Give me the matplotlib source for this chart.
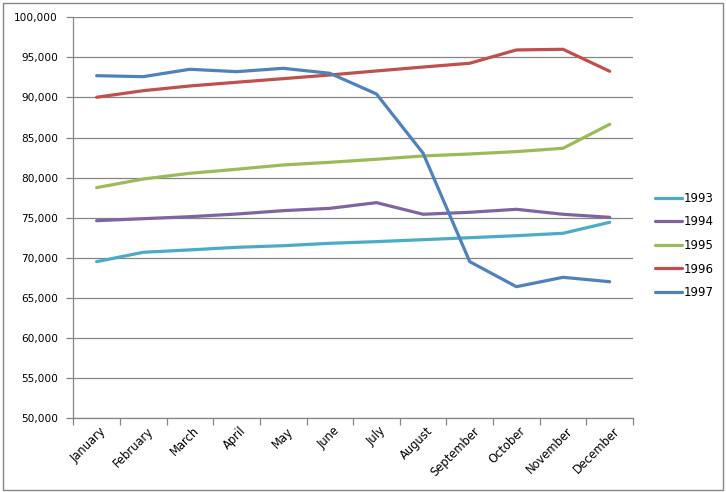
import matplotlib
matplotlib.use("Agg")
import matplotlib.pyplot as plt
from matplotlib.patches import Rectangle
from matplotlib.transforms import ScaledTranslation
import numpy as np

months = ["January", "February", "March", "April", "May", "June", "July",
          "August", "September", "October", "November", "December"]
series_names = ["1993", "1994", "1995", "1996", "1997"]
v1993 = [69530, 70700, 71000, 71320, 71520, 71820, 72030, 72270, 72520, 72770, 73070, 74440]
v1994 = [74640, 74890, 75140, 75470, 75890, 76180, 76890, 75440, 75690, 76060, 75440, 75060]
v1995 = [78760, 79840, 80550, 81050, 81590, 81920, 82300, 82710, 82960, 83250, 83670, 86660]
v1996 = [90030, 90850, 91440, 91900, 92350, 92810, 93310, 93800, 94270, 95930, 96010, 93270]
v1997 = [92720, 92600, 93520, 93220, 93640, 93020, 90440, 83050, 69530, 66410, 67580, 67030]
colors = ["#4BACC6", "#8064A2", "#9BBB59", "#C0504D", "#4F81BD"]
yticks = [50000, 55000, 60000, 65000, 70000, 75000, 80000, 85000, 90000, 95000, 100000]

W, H = 726, 492
fig = plt.figure(figsize=(W / 100, H / 100), dpi=100)
fig.patch.set_facecolor("white")

# chart border
fig.patches.append(Rectangle((3 / W, 1 - 490 / H), 720 / W, 487 / H,
                             transform=fig.transFigure, fill=False,
                             edgecolor="#868686", linewidth=1.0))

ax = fig.add_axes([73.3 / W, 1 - 418.3 / H, (633 - 73.3) / W, (418.3 - 17.3) / H])
x = np.arange(len(months)) + 0.5
for name, vals, c in zip(series_names, [v1993, v1994, v1995, v1996, v1997], colors):
    ax.plot(x, vals, color=c, linewidth=2.3, label=name, solid_capstyle="round",
            solid_joinstyle="round")

ax.set_xlim(0, len(months))
ax.set_ylim(50000, 100000)
ax.set_yticks(yticks)
ax.set_yticklabels([f"{v:,}" for v in yticks])
ax.yaxis.grid(True, color="#868686", linewidth=0.9)
ax.set_axisbelow(True)

ax.set_xticks(np.arange(len(months) + 1))
ax.set_xticklabels([])
ax.set_xticks(x, minor=True)
ax.set_xticklabels(months, minor=True, rotation=45, ha="right",
                   rotation_mode="anchor", fontsize=8.3, family="DejaVu Sans")
ax.tick_params(axis="x", which="minor", length=0, pad=4.5)
ax.tick_params(axis="x", which="major", length=5, color="#868686", width=0.9)
ax.tick_params(axis="y", length=5, color="#868686", width=0.9, labelsize=7.6, pad=6)

offset = ScaledTranslation(3 / 100, 0, fig.dpi_scale_trans)
for lbl in ax.get_xticklabels(minor=True):
    lbl.set_transform(lbl.get_transform() + offset)

for s in ["top", "right"]:
    ax.spines[s].set_visible(False)
for s in ["left", "bottom"]:
    ax.spines[s].set_color("#868686")
    ax.spines[s].set_linewidth(0.9)

leg = fig.legend(loc="upper left", bbox_to_anchor=(650 / W, 1 - 187 / H),
                 frameon=False, fontsize=8.5, handlelength=2.3, handletextpad=0.17,
                 labelspacing=0.9, borderaxespad=0)

fig.savefig("out.png", dpi=100, facecolor="white")
